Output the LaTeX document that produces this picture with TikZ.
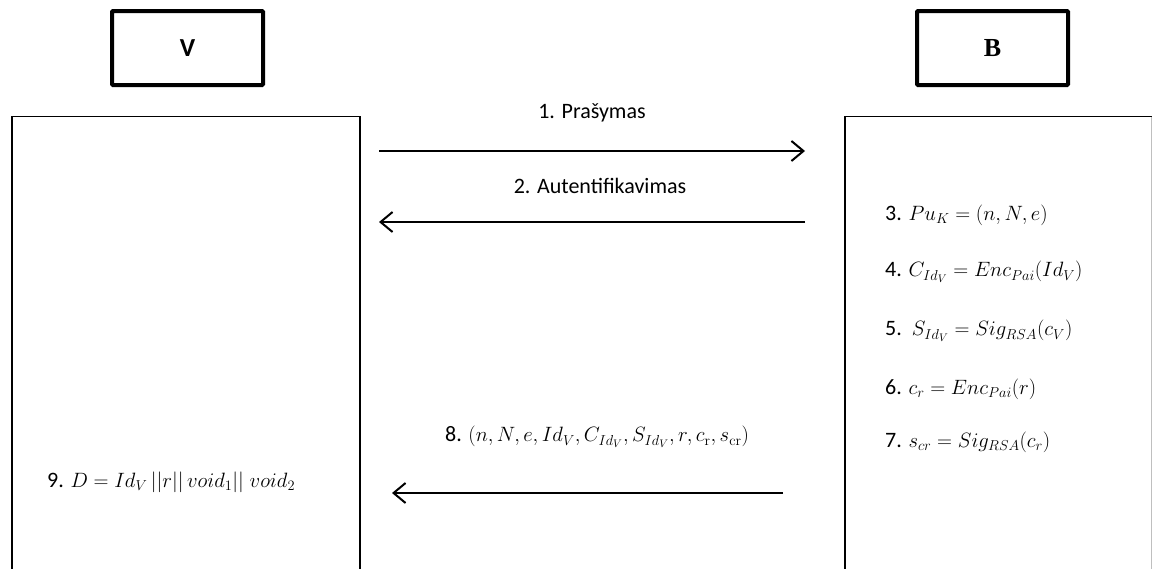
\documentclass[tikz,border=0pt]{standalone}
\usepackage[no-math]{fontspec}
\setmainfont{Carlito}
\newfontfamily\serifbold{Liberation Serif}
\usetikzlibrary{arrows.meta}
\begin{document}
\begin{tikzpicture}[x=1pt,y=-1pt,
  actor/.style={draw,line width=4pt,rounded corners=1pt,minimum width=151pt,minimum height=74pt,inner sep=0pt,font=\fontsize{26}{30}\selectfont\bfseries},
  panel/.style={draw,line width=1.2pt},
  msg/.style={line width=2pt,-{Straight Barb[length=12pt,width=20pt,line width=2pt]}},
  lbl/.style={inner sep=0pt,font=\fontsize{22}{26}\selectfont}]
\useasboundingbox[fill=white] (0,0) rectangle (1152,568);
% actors
\node[actor] (V) at (187.5,48) {V};
\node[actor,font=\fontsize{26}{30}\selectfont\serifbold\bfseries] (B) at (992.5,48) {B};
% panels (open at the bottom)
\draw[panel] (12,580) -- (12,116.5) -- (360,116.5) -- (360,580);
\draw[panel] (845,580) -- (845,116.5) -- (1152,116.5);
\draw[line width=0.6pt,black!25] (1151,116.5) -- (1151,580);
% message end points
\coordinate (m1s) at (379,151);
\coordinate (m1e) at (805,151);
\coordinate (m2s) at (805,222);
\coordinate (m2e) at (379,222);
\coordinate (m8s) at (783,493);
\coordinate (m8e) at (392,493);
\draw[msg] (m1s) -- (m1e);
\draw[msg] (m2s) -- (m2e);
\draw[msg] (m8s) -- (m8e);
\node[lbl] (l1) at (592,113) {1. Prašymas};
\node[lbl] (l2) at (600,186) {2. Autentifikavimas};
\node[lbl] (l8) at (597,437) {8. $(n, N, e, Id_V, C_{Id_V}, S_{Id_V}, r, c_{\mathrm{r}}, s_{\mathrm{cr}})$};
% B side computations
\node[lbl,anchor=west] (s3) at (885,215) {3. $Pu_K = (n, N, e)$};
\node[lbl,anchor=west] (s4) at (885,272) {4. $C_{Id_V} = Enc_{Pai}(Id_V)$};
\node[lbl,anchor=west] (s5) at (885,331) {5.\ \ $S_{Id_V} = Sig_{RSA}(c_V)$};
\node[lbl,anchor=west] (s6) at (885,389) {6. $c_r = Enc_{Pai}(r)$};
\node[lbl,anchor=west] (s7) at (885,442) {7. $s_{cr} = Sig_{RSA}(c_r)$};
% V side
\node[lbl,anchor=west] (s9) at (47,482) {9. $D = Id_V\,||r||\,void_1||\;void_2$};
\end{tikzpicture}
\end{document}
